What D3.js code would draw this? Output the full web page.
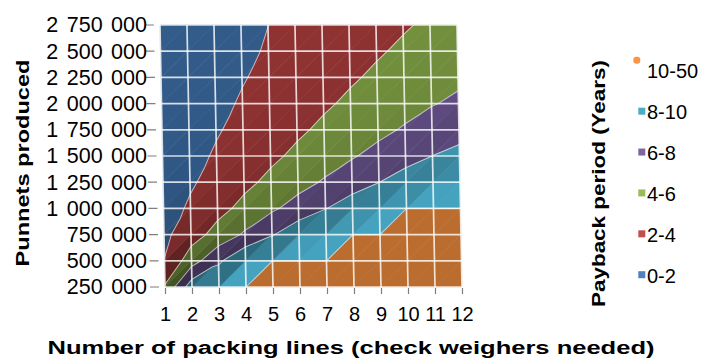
<!DOCTYPE html>
<html><head><meta charset="utf-8">
<script src="https://cdn.jsdelivr.net/npm/d3@7"></script>
<style>
body{margin:0;background:#fff}
text{font-family:"Liberation Sans",Arial,Helvetica,sans-serif;fill:#000}
</style>
</head><body>
<svg id="chart" width="708" height="360"></svg>
<script>
// ---------- data ----------
const lines = [1,2,3,4,5,6,7,8,9,10,11,12];
const punnets = [250000,500000,750000,1000000,1250000,1500000,1750000,2000000,2250000,2500000,2750000];
// payback (years) : one row per punnets value (bottom to top), one column per number of lines
const payback = [
  [4.2, 9.2, 9.9, 9.9, 40, 40, 40, 40, 40, 40, 40, 40],
  [2.05, 5.1, 7.65, 9.9, 9.9, 9.9, 9.9, 40, 40, 40, 40, 40],
  [1.57, 3.14, 4.71, 6.28, 7.85, 9.42, 9.9, 9.9, 9.9, 40, 40, 40],
  [1.13, 2.27, 3.4, 4.53, 5.67, 6.8, 7.93, 9.07, 9.9, 9.9, 9.9, 9.9],
  [0.89, 1.77, 2.66, 3.55, 4.43, 5.32, 6.21, 7.1, 7.98, 8.87, 9.76, 9.9],
  [0.73, 1.46, 2.19, 2.91, 3.64, 4.37, 5.1, 5.83, 6.56, 7.29, 8.01, 8.45],
  [0.62, 1.24, 1.85, 2.47, 3.09, 3.71, 4.33, 4.95, 5.56, 6.18, 6.8, 7.42],
  [0.54, 1.07, 1.61, 2.15, 2.68, 3.22, 3.76, 4.29, 4.83, 5.37, 5.9, 6.3],
  [0.47, 0.95, 1.42, 1.9, 2.37, 2.85, 3.32, 3.8, 4.27, 4.74, 5.22, 5.69],
  [0.43, 0.85, 1.28, 1.7, 2.13, 2.55, 2.98, 3.4, 3.83, 4.25, 4.68, 5.1],
  [0.38, 0.77, 1.15, 1.54, 1.99, 2.31, 2.69, 3.08, 3.46, 3.85, 4.23, 4.62]
];
const bandBreaks = [0, 2, 4, 6, 8, 10, 50];
const bandLabels = ["0-2", "2-4", "4-6", "6-8", "8-10", "10-50"];
const xTitle = "Number of packing lines (check weighers needed)";
const yTitle = "Punnets produced";
const legendTitle = "Payback period (Years)";

// ---------- styles ----------
const surfaceColors = ["#335d8c", "#923333", "#76943f", "#66518a", "#45a3c0", "#bb6c2f"];
const legendColors  = ["#4f81bd", "#c0504d", "#9bbb59", "#8064a2", "#4bacc6", "#f79646"];

const svg = d3.select("#chart");
const x = d3.scaleLinear().domain([1, 12]).range([165, 462]);
const y = d3.scaleLinear().domain([250000, 2750000]).range([287, 25]);
const y0 = y(250000);

const surf = svg.append("g")
  .attr("transform", `translate(0,${y0}) skewX(1.1) translate(0,${-y0})`);

function clip(poly, thr, above) {
  const out = [];
  for (let i = 0; i < poly.length; i++) {
    const a = poly[i], b = poly[(i + 1) % poly.length];
    const ina = above ? a[2] >= thr : a[2] <= thr;
    const inb = above ? b[2] >= thr : b[2] <= thr;
    if (ina) out.push(a);
    if (ina !== inb) {
      const t = (thr - a[2]) / (b[2] - a[2]);
      out.push([a[0] + t * (b[0] - a[0]), a[1] + t * (b[1] - a[1]), thr]);
    }
  }
  return out;
}
const toPath = pts => "M" + pts.map(p => x(p[0]) + "," + y(p[1])).join("L") + "Z";
const cl = v => Math.max(0, Math.min(10, v));

const tris = [];
for (let j = 0; j < punnets.length - 1; j++) {
  for (let i = 0; i < lines.length - 1; i++) {
    const BL = [lines[i], punnets[j], payback[j][i]];
    const BR = [lines[i + 1], punnets[j], payback[j][i + 1]];
    const TL = [lines[i], punnets[j + 1], payback[j + 1][i]];
    const TR = [lines[i + 1], punnets[j + 1], payback[j + 1][i + 1]];
    tris.push({pts: [BL, BR, TR], gx: cl(BR[2]) - cl(BL[2]), gy: cl(TR[2]) - cl(BR[2])});
    tris.push({pts: [BL, TR, TL], gx: cl(TR[2]) - cl(TL[2]), gy: cl(TL[2]) - cl(BL[2])});
  }
}

tris.forEach(tr => {
  const g = Math.hypot(tr.gx, tr.gy);
  const f = 1 / Math.sqrt(1 + (0.6 * g) * (0.6 * g));
  const k = 0.42 + 0.58 * f;
  for (let b = 0; b < bandLabels.length; b++) {
    let poly = clip(tr.pts, bandBreaks[b], true);
    if (poly.length < 3) continue;
    poly = clip(poly, bandBreaks[b + 1], false);
    if (poly.length < 3) continue;
    const c = d3.rgb(surfaceColors[b]);
    const col = d3.rgb(c.r * k, c.g * k, c.b * k).toString();
    surf.append("path").attr("d", toPath(poly))
      .attr("fill", col).attr("stroke", col).attr("stroke-width", 0.6);
  }
});

// contour boundaries
const thresholds = bandBreaks.slice(1, -1);
tris.forEach(tr => {
  thresholds.forEach(t => {
    const seg = [];
    for (let i = 0; i < 3; i++) {
      const a = tr.pts[i], b = tr.pts[(i + 1) % 3];
      if ((a[2] - t) * (b[2] - t) < 0) {
        const u = (t - a[2]) / (b[2] - a[2]);
        seg.push([a[0] + u * (b[0] - a[0]), a[1] + u * (b[1] - a[1])]);
      }
    }
    if (seg.length === 2) {
      surf.append("line")
        .attr("x1", x(seg[0][0])).attr("y1", y(seg[0][1]))
        .attr("x2", x(seg[1][0])).attr("y2", y(seg[1][1]))
        .attr("stroke", "#fff").attr("stroke-opacity", 0.6).attr("stroke-width", 1);
    }
  });
});

// grid lines on the surface
surf.selectAll(".vg").data(lines).enter().append("line")
  .attr("x1", d => x(d)).attr("x2", d => x(d))
  .attr("y1", y(punnets[0])).attr("y2", y(punnets[punnets.length - 1]))
  .attr("stroke", "#fff").attr("stroke-opacity", 0.8).attr("stroke-width", 1.7);
surf.selectAll(".hg").data(punnets).enter().append("line")
  .attr("y1", d => y(d)).attr("y2", d => y(d))
  .attr("x1", x(1)).attr("x2", x(12))
  .attr("stroke", "#fff").attr("stroke-opacity", 0.8).attr("stroke-width", 1.7);

// y ticks
surf.selectAll(".yt").data(punnets).enter().append("line")
  .attr("x1", x(1) - 15).attr("x2", x(1) - 6)
  .attr("y1", d => y(d)).attr("y2", d => y(d))
  .attr("stroke", "#7f7f7f").attr("stroke-width", 1.2);

// x axis
const xAxis = svg.append("g").attr("transform", `translate(0,${y0 + 1})`)
  .call(d3.axisBottom(x).tickValues(lines).tickSize(6).tickPadding(13).tickFormat(d3.format("d")));
xAxis.select(".domain").remove();
xAxis.selectAll(".tick line").attr("stroke", "#7f7f7f").attr("stroke-width", 1.2);
xAxis.selectAll(".tick text").attr("font-size", "20px").attr("fill", "#000")
  .attr("font-family", '"Liberation Sans",Arial,sans-serif');

// y labels
const fmt = v => d3.format(",")(v).replace(/,/g, " ");
const yAxis = svg.append("g").attr("transform", "translate(159,0)")
  .call(d3.axisLeft(y).tickValues(punnets).tickSize(0).tickPadding(12).tickFormat(fmt));
yAxis.select(".domain").remove();
yAxis.selectAll(".tick text").attr("font-size", "21.5px").attr("fill", "#000")
  .attr("word-spacing", "2.5px")
  .attr("font-family", '"Liberation Sans",Arial,sans-serif');

// titles
svg.append("text").text(xTitle)
  .attr("x", 351).attr("y", 354).attr("text-anchor", "middle")
  .attr("font-size", "18px").attr("font-weight", "bold")
  .attr("textLength", 607).attr("lengthAdjust", "spacingAndGlyphs");
svg.append("text").text(yTitle)
  .attr("transform", "translate(29,163) rotate(-90)").attr("text-anchor", "middle")
  .attr("font-size", "18px").attr("font-weight", "bold")
  .attr("textLength", 207).attr("lengthAdjust", "spacingAndGlyphs");

// legend
svg.append("text").text(legendTitle)
  .attr("transform", "translate(605,183.5) rotate(-90)").attr("text-anchor", "middle")
  .attr("font-size", "18px").attr("font-weight", "bold")
  .attr("textLength", 247).attr("lengthAdjust", "spacingAndGlyphs");

const legendOrder = d3.range(bandLabels.length).reverse();
const ly = d3.scalePoint().domain(legendOrder).range([78.3, 282.7]);
const leg = svg.append("g");
legendOrder.forEach(b => {
  const by = ly(b);
  if (b === bandLabels.length - 1) {
    leg.append("rect").attr("x", 633.3).attr("y", by - 21.5).attr("width", 7).attr("height", 7)
      .attr("rx", 3).attr("fill", legendColors[b]);
  } else {
    leg.append("rect").attr("x", 638.3).attr("y", by - 11.5).attr("width", 7).attr("height", 7)
      .attr("fill", legendColors[b]);
  }
  leg.append("text").text(bandLabels[b]).attr("x", 647).attr("y", by)
    .attr("font-size", "20px");
});
</script>
</body></html>
